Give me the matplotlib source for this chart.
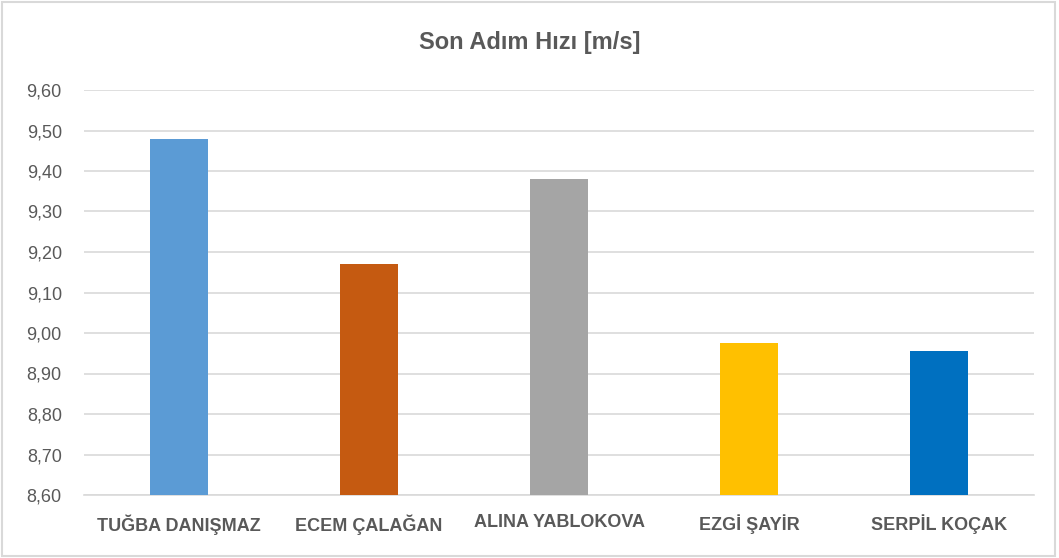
import matplotlib.pyplot as plt
from matplotlib.ticker import FuncFormatter
from matplotlib.patches import Rectangle

# Data
names = ['TUĞBA DANIŞMAZ', 'ECEM ÇALAĞAN', 'ALINA YABLOKOVA', 'EZGİ ŞAYİR', 'SERPİL KOÇAK']
speeds = [9.48, 9.17, 9.38, 8.975, 8.955]
colors = ['#5b9bd5', '#c55a11', '#a5a5a5', '#ffc000', '#0070c0']
yticks = [8.6, 8.7, 8.8, 8.9, 9.0, 9.1, 9.2, 9.3, 9.4, 9.5, 9.6]

plt.rcParams['font.family'] = ['Liberation Sans', 'DejaVu Sans']
grey = '#595959'

fig = plt.figure(figsize=(10.59, 5.58), dpi=100)
ax = fig.add_axes([84 / 1059, 1 - 495 / 558, 950 / 1059, 405 / 558])

x = range(len(names))
ax.bar(x, speeds, width=0.31, color=colors, zorder=3)

ax.set_ylim(8.6, 9.6)
ax.set_xlim(-0.5, len(names) - 0.5)
ax.set_yticks(yticks)
ax.yaxis.set_major_formatter(FuncFormatter(lambda v, p: ('%.2f' % v).replace('.', ',')))
ax.grid(axis='y', color='#d9d9d9', linewidth=1.2, zorder=0)
ax.set_xticks(list(x))
ax.set_xticklabels(names, fontweight='bold', fontsize=13)
for s in ['top', 'right', 'left']:
    ax.spines[s].set_visible(False)
ax.spines['bottom'].set_color('#d9d9d9')
ax.spines['bottom'].set_linewidth(1.2)
ax.tick_params(axis='both', length=0, colors=grey)
ax.tick_params(axis='y', pad=16, labelsize=13)
ax.tick_params(axis='x', pad=14)

fig.text(0.5, 1 - 42 / 558, 'Son Adım Hızı [m/s]', ha='center', va='center',
         fontsize=17, fontweight='bold', color=grey)

# chart border
fig.patches.append(Rectangle((0.002, 0.003), 0.994, 0.993, transform=fig.transFigure,
                             fill=False, edgecolor='#d9d9d9', linewidth=1.5))

fig.savefig('out.png', dpi=100)
